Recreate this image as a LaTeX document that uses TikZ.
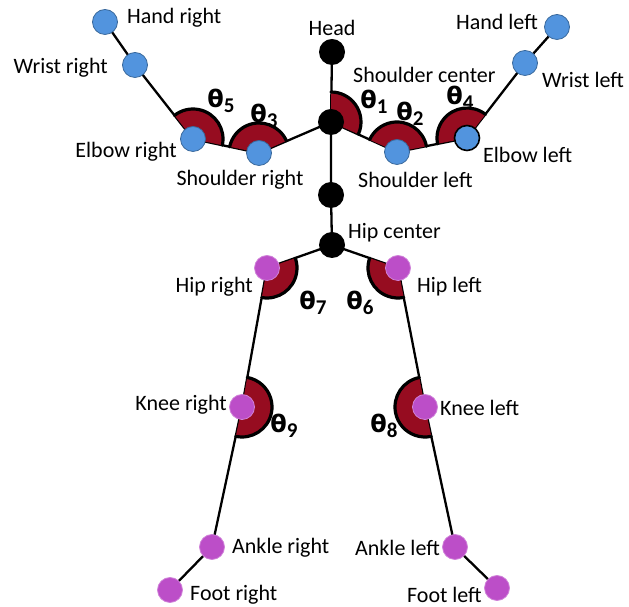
\documentclass[tikz,border=0pt]{standalone}
\usepackage{fontspec}
\setmainfont{Carlito}
\newfontfamily\thetafont{DejaVu Sans}
\definecolor{jointblue}{RGB}{82,148,222}
\definecolor{jointpink}{RGB}{188,78,200}
\definecolor{wedgered}{RGB}{150,12,32}
\usetikzlibrary{backgrounds}

\newcommand{\jointangle}[3]{%
  \fill[wedgefill] (#1.center) -- ++(#2:30pt) arc[start angle=#2, end angle=#3, radius=30pt] -- cycle;
  \draw[wedgeedge] (#1.center) ++(#2:30pt) arc[start angle=#2, end angle=#3, radius=30pt];}
\newcommand{\thetalabel}[1]{{\thetafont\bfseries θ}\raisebox{-5pt}{\fontsize{21}{21}\selectfont\bfseries #1}}

\begin{document}
\begin{tikzpicture}[x=1pt, y=1pt,
  joint/.style={circle, inner sep=0pt, minimum size=25pt},
  bluejoint/.style={joint, fill=jointblue, draw=jointblue!70!black, line width=0.8pt},
  pinkjoint/.style={joint, fill=jointpink, draw=jointpink!70!white, line width=0.8pt},
  blackjoint/.style={joint, fill=black, minimum size=26pt},
  bone/.style={line width=2.3pt, line cap=round},
  wedgefill/.style={fill=wedgered},
  wedgeedge/.style={draw=black, line width=3.2pt, line cap=round},
  joinlabel/.style={font=\fontsize{22}{24}\selectfont, inner sep=0pt},
  anglelabel/.style={font=\fontsize{24}{25}\selectfont, inner sep=0pt}]

\useasboundingbox (0,0) rectangle (629,607);

% Spine
\node[blackjoint] (head) at (332,555) {};
\node[blackjoint] (shc) at (331,485) {};
\node[blackjoint] (spine) at (331,412) {};
\node[blackjoint] (hipc) at (332,362) {};

% Right arm
\node[bluejoint] (handr) at (105,585) {};
\node[bluejoint] (wristr) at (135,542) {};
\node[bluejoint] (elbowr) at (193,468) {};
\node[bluejoint] (shr) at (259,454) {};

% Left arm
\node[bluejoint] (shl) at (397,455) {};
\node[bluejoint, draw=black, line width=1.6pt] (elbowl) at (467,469) {};
\node[bluejoint] (wristl) at (525,544) {};
\node[bluejoint] (handl) at (557,580) {};

% Legs
\node[pinkjoint] (hipr) at (267,339) {};
\node[pinkjoint] (kneer) at (242,200) {};
\node[pinkjoint] (ankler) at (212,60) {};
\node[pinkjoint] (footr) at (170,17) {};
\node[pinkjoint] (hipl) at (398,339) {};
\node[pinkjoint] (kneel) at (425,200) {};
\node[pinkjoint] (anklel) at (455,60) {};
\node[pinkjoint] (footl) at (497,19) {};

\begin{scope}[on background layer]
% Bones
\draw[bone] (head.center) -- (shc.center) -- (spine.center) -- (hipc.center);
\draw[bone] (handr.center) -- (wristr.center) -- (elbowr.center) -- (shr.center) -- (shc.center);
\draw[bone] (shc.center) -- (shl.center) -- (elbowl.center) -- (wristl.center) -- (handl.center);
\draw[bone] (footr.center) -- (ankler.center) -- (kneer.center) -- (hipr.center) -- (hipc.center);
\draw[bone] (hipc.center) -- (hipl.center) -- (kneel.center) -- (anklel.center) -- (footl.center);

% Angles
\jointangle{shc}{-24}{90}
\jointangle{shl}{11}{156}
\jointangle{elbowl}{52}{191}
\jointangle{shr}{24}{168}
\jointangle{elbowr}{-12}{128}
\jointangle{hipr}{-100}{19}
\jointangle{hipl}{161}{281}
\jointangle{kneer}{-102}{80}
\jointangle{kneel}{101}{282}
\end{scope}

% Angle labels
\node[anglelabel] (t1) at (374,505) {\thetalabel{1}};
\node[anglelabel] (t2) at (410,493) {\thetalabel{2}};
\node[anglelabel] (t3) at (264,491) {\thetalabel{3}};
\node[anglelabel] (t4) at (460,509) {\thetalabel{4}};
\node[anglelabel] (t5) at (221,506) {\thetalabel{5}};
\node[anglelabel] (t6) at (360,304) {\thetalabel{6}};
\node[anglelabel] (t7) at (313,304) {\thetalabel{7}};
\node[anglelabel] (t8) at (384,181) {\thetalabel{8}};
\node[anglelabel] (t9) at (284,181) {\thetalabel{9}};

% Joint names
\node[joinlabel] (lhead) at (332,579) {Head};
\node[joinlabel, anchor=west] (lshc) at (353,532) {Shoulder center};
\node[joinlabel, anchor=west] (lhandr) at (127,589) {Hand right};
\node[joinlabel, anchor=east] (lwristr) at (108,539) {Wrist right};
\node[joinlabel, anchor=east] (lelbowr) at (177,455) {Elbow right};
\node[joinlabel] (lshr) at (240,427) {Shoulder right};
\node[joinlabel, anchor=east] (lhandl) at (538,585) {Hand left};
\node[joinlabel, anchor=west] (lwristl) at (542,527) {Wrist left};
\node[joinlabel, anchor=west] (lelbowl) at (483,452) {Elbow left};
\node[joinlabel, anchor=west] (lshl) at (358,427) {Shoulder left};
\node[joinlabel, anchor=west] (lhipc) at (348,374) {Hip center};
\node[joinlabel, anchor=east] (lhipr) at (253,320) {Hip right};
\node[joinlabel, anchor=west] (lhipl) at (417,320) {Hip left};
\node[joinlabel, anchor=east] (lkneer) at (227,202) {Knee right};
\node[joinlabel, anchor=west] (lkneel) at (440,199) {Knee left};
\node[joinlabel, anchor=west] (lankler) at (232,59) {Ankle right};
\node[joinlabel, anchor=east] (lanklel) at (440,59) {Ankle left};
\node[joinlabel, anchor=west] (lfootr) at (190,12) {Foot right};
\node[joinlabel, anchor=east] (lfootl) at (482,12) {Foot left};

\end{tikzpicture}
\end{document}
